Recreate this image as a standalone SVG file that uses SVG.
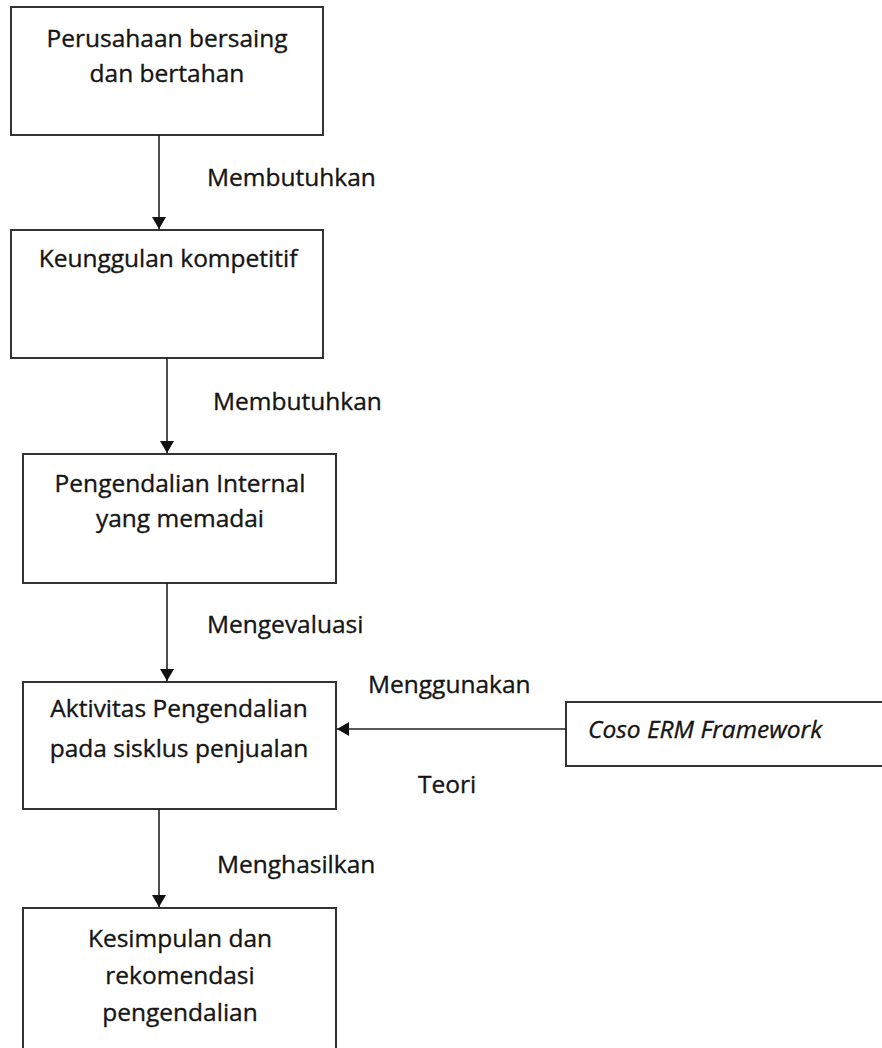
<svg xmlns="http://www.w3.org/2000/svg" width="882" height="1048" viewBox="0 0 882 1048">
<defs>
<style>
.box{fill:#fff;stroke:#333;stroke-width:2}
.t{font-family:"Open Sans","Noto Sans",sans-serif;font-size:24.5px;fill:#151515;stroke:#151515;stroke-width:0.35}
.c{text-anchor:middle}
.ln{stroke:#222;stroke-width:1.6;fill:none}
</style>
<marker id="ah" viewBox="0 0 12 14" refX="12" refY="7" markerWidth="12" markerHeight="14" markerUnits="userSpaceOnUse" orient="auto">
<path d="M0,0 L12,7 L0,14 Z" fill="#111"/>
</marker>
</defs>
<rect width="882" height="1048" fill="#fff"/>
<g id="n1"><rect class="box" x="11" y="7" width="312" height="128"/>
<text class="t c" x="167" y="47">Perusahaan bersaing</text>
<text class="t c" x="167" y="82">dan bertahan</text></g>
<g id="n2"><rect class="box" x="11" y="230" width="312" height="128"/>
<text class="t c" x="168" y="267">Keunggulan kompetitif</text></g>
<g id="n3"><rect class="box" x="23" y="454" width="313" height="129"/>
<text class="t c" x="180" y="492">Pengendalian Internal</text>
<text class="t c" x="180" y="527">yang memadai</text></g>
<g id="n4"><rect class="box" x="23" y="682" width="313" height="127"/>
<text class="t c" x="179" y="717">Aktivitas Pengendalian</text>
<text class="t c" x="179" y="757">pada sisklus penjualan</text></g>
<g id="n5"><rect class="box" x="23" y="908" width="313" height="150"/>
<text class="t c" x="180" y="947">Kesimpulan dan</text>
<text class="t c" x="180" y="984">rekomendasi</text>
<text class="t c" x="180" y="1021">pengendalian</text></g>
<g id="n6"><rect class="box" x="566" y="702" width="330" height="64"/>
<text class="t" x="588" y="738" font-style="italic" font-size="25px">Coso ERM Framework</text></g>
<g id="connectors">
<line class="ln" x1="159" y1="135" x2="159" y2="229" marker-end="url(#ah)"/>
<line class="ln" x1="167" y1="358" x2="167" y2="453" marker-end="url(#ah)"/>
<line class="ln" x1="167" y1="583" x2="167" y2="681" marker-end="url(#ah)"/>
<line class="ln" x1="159" y1="809" x2="159" y2="907" marker-end="url(#ah)"/>
<line class="ln" x1="566" y1="729" x2="337" y2="729" marker-end="url(#ah)"/>
<text class="t" x="207" y="186">Membutuhkan</text>
<text class="t" x="213" y="410">Membutuhkan</text>
<text class="t" x="207" y="633">Mengevaluasi</text>
<text class="t" x="217" y="873">Menghasilkan</text>
<text class="t" x="368" y="693">Menggunakan</text>
<text class="t" x="418" y="793">Teori</text>
</g>
</svg>
